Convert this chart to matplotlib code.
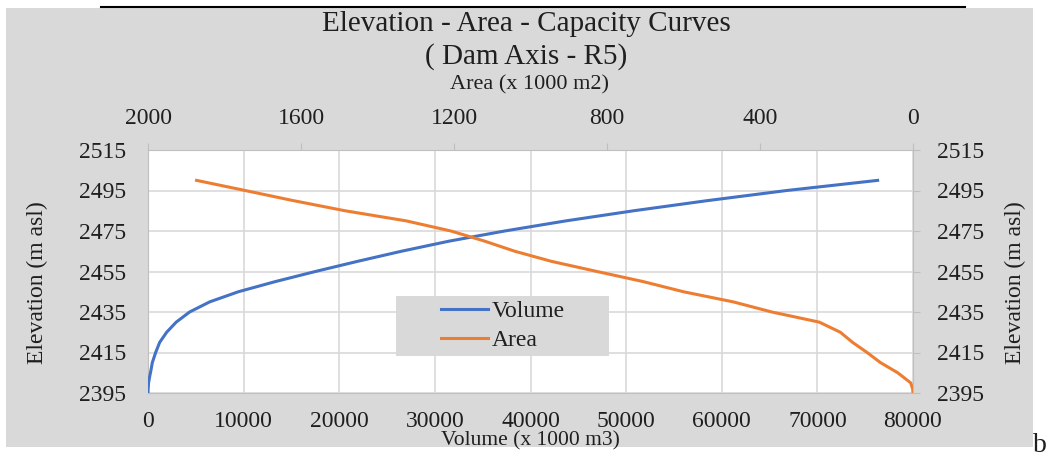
import matplotlib
matplotlib.use("Agg")
import matplotlib.pyplot as plt
from matplotlib.patches import Rectangle
from matplotlib.lines import Line2D

plt.rcParams['font.family'] = ['Liberation Serif', 'DejaVu Serif']

# ---- data ----
elevation = [2395, 2397, 2400, 2403, 2406, 2410, 2415, 2420, 2425, 2430, 2435, 2440, 2445,
             2450, 2455, 2460, 2465, 2470, 2475, 2480, 2485, 2490, 2495, 2500]
volume = [0, 15, 60, 170, 300, 450, 800, 1220, 1950, 2950, 4350, 6450, 9450,
          13300, 17500, 21900, 26500, 31500, 37300, 43700, 50800, 58500, 66800, 76300]
area_elev = [2395, 2397, 2400, 2405, 2410, 2415, 2420, 2425, 2430, 2435, 2440, 2445,
             2450, 2455, 2460, 2465, 2470, 2475, 2480, 2485, 2490, 2495, 2500]
area = [0, 1, 6, 40, 85, 120, 158, 190, 245, 369, 470, 600,
        705, 826, 945, 1041, 1120, 1208, 1325, 1485, 1620, 1746, 1873]

elev_ticks = [2395, 2415, 2435, 2455, 2475, 2495, 2515]
vol_ticks = [0, 10000, 20000, 30000, 40000, 50000, 60000, 70000, 80000]
area_ticks = [2000, 1600, 1200, 800, 400, 0]

title_1 = "Elevation - Area - Capacity Curves"
title_2 = "( Dam Axis - R5)"

W, H = 1049, 459
fig = plt.figure(figsize=(W / 100, H / 100), dpi=100)
fig.patch.set_facecolor('white')


def fx(px):
    return px / W


def fy(py):
    return 1 - py / H


# gray chart background
fig.add_artist(Rectangle((fx(6), fy(447)), (1033 - 6) / W, (447 - 8) / H,
                         transform=fig.transFigure, facecolor='#d9d9d9',
                         edgecolor='none', zorder=0))
# black rule at top
fig.add_artist(Line2D([fx(101), fx(965)], [fy(7), fy(7)],
                      transform=fig.transFigure, color='black', lw=1.5))

left, right, top, bottom = 148, 913, 150, 393
pos = [fx(left), fy(bottom), (right - left) / W, (bottom - top) / H]

txt = '#1f1f1f'
grid_c = '#d9d9d9'
spine_c = '#bfbfbf'
fs = 17

ax = fig.add_axes(pos)
ax.set_facecolor('white')
ax.plot(volume, elevation, color='#4472C4', lw=2.2, label='Volume', zorder=3,
        solid_joinstyle='round')
ax.set_xlim(0, 80000)
ax.set_ylim(2395, 2515)
ax.set_xticks(vol_ticks)
ax.set_yticks(elev_ticks)
ax.grid(True, color=grid_c, lw=1.2)
ax.set_axisbelow(True)
ax.tick_params(axis='both', length=0, labelsize=fs, colors=txt)
ax.tick_params(axis='y', pad=16)
ax.tick_params(axis='x', pad=13)
for s in ax.spines.values():
    s.set_color(spine_c)

ax2 = fig.add_axes(pos, frameon=False)
ax2.patch.set_visible(False)
ax2.plot(area, area_elev, color='#ED7D31', lw=2.2, label='Area', zorder=3,
         solid_joinstyle='round')
ax2.set_xlim(2000, 0)
ax2.set_ylim(2395, 2515)
ax2.set_xticks(area_ticks)
ax2.set_yticks(elev_ticks)
ax2.xaxis.tick_top()
ax2.yaxis.tick_right()
ax2.tick_params(axis='both', direction='out', length=5, color=spine_c,
                labelsize=fs, labelcolor=txt, pad=10)
ax2.tick_params(axis='y', pad=12)
for side in ['top', 'right']:
    ax2.spines[side].set_visible(True)
    ax2.spines[side].set_color(spine_c)

# axis titles placed as in the reference
fig.text(fx(530), fy(441), 'Volume (x 1000 m3)', ha='center', va='center',
         fontsize=15.5, color=txt)
fig.text(fx(530), fy(85), 'Area (x 1000 m2)', ha='center', va='center',
         fontsize=16, color=txt)
fig.text(fx(37), fy(283), 'Elevation (m asl)', ha='center', va='center',
         fontsize=17, color=txt, rotation=90)
fig.text(fx(1015), fy(283), 'Elevation (m asl)', ha='center', va='center',
         fontsize=17, color=txt, rotation=90)

fig.text(fx(526), fy(24), title_1, ha='center', va='center', fontsize=21, color=txt)
fig.text(fx(526), fy(57), title_2, ha='center', va='center', fontsize=21, color=txt)

# legend: gray box plus frameless legend centred on it
fig.add_artist(Rectangle((fx(396), fy(356)), (609 - 396) / W, (356 - 296) / H,
                         transform=fig.transFigure, facecolor='#d9d9d9',
                         edgecolor='none', zorder=4))
handles = [Line2D([], [], color='#4472C4', lw=2.2), Line2D([], [], color='#ED7D31', lw=2.2)]
leg = fig.legend(handles, ['Volume', 'Area'], loc='center',
                 bbox_to_anchor=(fx(503), fy(326)), bbox_transform=fig.transFigure,
                 frameon=False, fontsize=fs, handlelength=2.0, handletextpad=0.17,
                 borderaxespad=0, borderpad=0, labelspacing=0.3)
for t in leg.get_texts():
    t.set_color(txt)
leg.set_zorder(6)

fig.text(fx(1040), fy(446), 'b', ha='center', va='center', fontsize=20, color=txt)

fig.savefig('out.png', dpi=100, facecolor='white')
